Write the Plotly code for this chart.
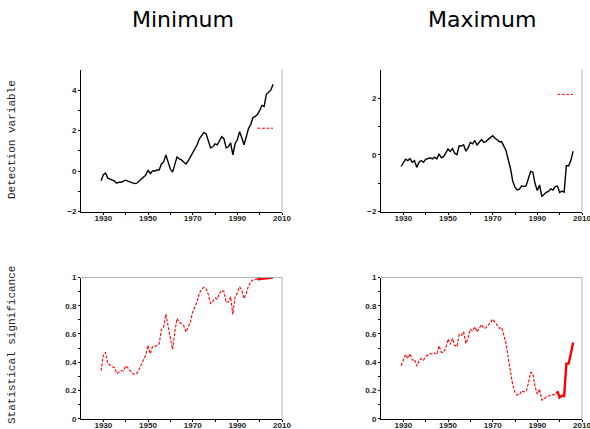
import plotly.graph_objects as go

years = list(range(1929, 2007))

min_detection = [-0.48, -0.18, -0.1, -0.35, -0.4, -0.45, -0.5, -0.6, -0.55, -0.55,
                 -0.5, -0.45, -0.5, -0.55, -0.6, -0.62, -0.6, -0.5, -0.4, -0.3,
                 -0.2, 0.05, -0.12, 0.0, 0.0, 0.05, 0.05, 0.35, 0.45, 0.8,
                 0.4, 0.1, -0.05, 0.3, 0.7, 0.6, 0.55, 0.45, 0.35, 0.5,
                 0.7, 0.9, 1.15, 1.3, 1.6, 1.75, 1.9, 1.85, 1.55, 1.15,
                 1.2, 1.35, 1.3, 1.5, 1.7, 1.6, 1.15, 1.2, 1.4, 0.8,
                 1.35, 1.55, 1.95, 1.65, 1.3, 1.7, 2.1, 2.3, 2.65, 2.7,
                 2.8, 3.0, 3.25, 3.2, 3.8, 3.9, 4.0, 4.3]

max_detection = [-0.41, -0.26, -0.15, -0.2, -0.13, -0.26, -0.2, -0.44, -0.26, -0.2,
                 -0.26, -0.16, -0.12, -0.1, -0.14, -0.08, -0.14, 0.04, -0.1, -0.06,
                 0.06, 0.21, 0.12, 0.22, 0.06, 0.01, 0.32, 0.31, 0.36, 0.13,
                 0.25, 0.44, 0.39, 0.51, 0.35, 0.44, 0.54, 0.45, 0.47, 0.55,
                 0.62, 0.68, 0.6, 0.53, 0.46, 0.47, 0.29, 0.15, -0.18, -0.49,
                 -0.93, -1.14, -1.24, -1.21, -1.09, -1.12, -1.09, -0.85, -0.58, -0.61,
                 -1.02, -1.26, -1.06, -1.47, -1.38, -1.32, -1.29, -1.2, -1.24, -1.12,
                 -1.1, -1.33, -1.28, -1.32, -0.38, -0.39, -0.2, 0.13]

min_significance = [0.34, 0.45, 0.47, 0.39, 0.38, 0.37, 0.36, 0.32, 0.33, 0.34,
                    0.34, 0.375, 0.36, 0.34, 0.32, 0.315, 0.32, 0.35, 0.385, 0.415,
                    0.45, 0.52, 0.46, 0.51, 0.51, 0.52, 0.53, 0.63, 0.65, 0.74,
                    0.65, 0.57, 0.49, 0.615, 0.71, 0.685, 0.675, 0.66, 0.615, 0.65,
                    0.685, 0.757, 0.80, 0.83, 0.89, 0.917, 0.93, 0.92, 0.88, 0.816,
                    0.83, 0.855, 0.847, 0.887, 0.91, 0.9, 0.823, 0.828, 0.863, 0.738,
                    0.863, 0.89, 0.934, 0.91, 0.85, 0.887, 0.94, 0.97, 0.983, 0.986,
                    0.988, 0.99, 0.993, 0.995, 0.997, 0.997, 0.999, 1.0]

max_significance = [0.375, 0.415, 0.455, 0.427, 0.46, 0.415, 0.42, 0.373, 0.408, 0.427,
                    0.415, 0.44, 0.45, 0.462, 0.458, 0.465, 0.455, 0.516, 0.47, 0.47,
                    0.50, 0.564, 0.526, 0.568, 0.52, 0.51, 0.597, 0.59, 0.615, 0.533,
                    0.573, 0.634, 0.62, 0.65, 0.615, 0.64, 0.667, 0.64, 0.644, 0.663,
                    0.68, 0.705, 0.68, 0.663, 0.64, 0.646, 0.59, 0.533, 0.427, 0.333,
                    0.238, 0.186, 0.167, 0.17, 0.198, 0.19, 0.196, 0.25, 0.328, 0.32,
                    0.226, 0.172, 0.21, 0.132, 0.137, 0.156, 0.16, 0.167, 0.172, 0.167,
                    0.196, 0.15, 0.163, 0.16, 0.39, 0.39, 0.46, 0.54]

threshold_years = [1999, 2006]
threshold_min = [2.12, 2.12]
threshold_max = [2.14, 2.14]
solid_start = 1999

col_titles = ["Minimum", "Maximum"]
row_titles = ["Detection variable", "Statistical significance"]

W, H = 590, 429
def xd(a, b):
    return [a / W, b / W]
def yd(top, bot):
    return [1 - bot / H, 1 - top / H]

fig = go.Figure()

k = years.index(solid_start)
RED = "#ff0000"
DASH = "3px,1.5px"

# top-left
fig.add_trace(go.Scatter(x=years, y=min_detection, mode="lines",
                         line=dict(color="black", width=1.4), xaxis="x", yaxis="y"))
fig.add_trace(go.Scatter(x=threshold_years, y=threshold_min, mode="lines",
                         line=dict(color=RED, width=1, dash=DASH), xaxis="x", yaxis="y"))
# top-right
fig.add_trace(go.Scatter(x=years, y=max_detection, mode="lines",
                         line=dict(color="black", width=1.4), xaxis="x2", yaxis="y2"))
fig.add_trace(go.Scatter(x=threshold_years, y=threshold_max, mode="lines",
                         line=dict(color=RED, width=1, dash=DASH), xaxis="x2", yaxis="y2"))
# bottom-left
fig.add_trace(go.Scatter(x=years[:k + 1], y=min_significance[:k + 1], mode="lines",
                         line=dict(color=RED, width=1.1, dash=DASH), xaxis="x3", yaxis="y3"))
fig.add_trace(go.Scatter(x=years[k:], y=min_significance[k:], mode="lines",
                         line=dict(color=RED, width=2.4), xaxis="x3", yaxis="y3"))
# bottom-right
fig.add_trace(go.Scatter(x=years[:k + 1], y=max_significance[:k + 1], mode="lines",
                         line=dict(color=RED, width=1.1, dash=DASH), xaxis="x4", yaxis="y4"))
fig.add_trace(go.Scatter(x=years[k:], y=max_significance[k:], mode="lines",
                         line=dict(color=RED, width=2.4), xaxis="x4", yaxis="y4"))

tickfont = dict(family="Liberation Sans", size=8, color="#222", weight="bold")

def xaxis(domain, anchor):
    return dict(domain=domain, anchor=anchor, range=[1920, 2010], automargin=False,
                tickmode="array", tickvals=[1930, 1950, 1970, 1990, 2010],
                ticks="outside", ticklen=2, tickwidth=1, tickcolor="black",
                ticklabelstandoff=-3, ticklabeloverflow="allow",
                minor=dict(tickmode="array", tickvals=[1940, 1960, 1980, 2000],
                           ticks="outside", ticklen=2, tickcolor="black"),
                showline=True, linecolor="black", linewidth=1,
                showgrid=False, zeroline=False, tickfont=tickfont, fixedrange=True)

def yaxis(domain, anchor, rng, vals, texts, minor_vals):
    return dict(domain=domain, anchor=anchor, range=rng, automargin=False,
                tickmode="array", tickvals=vals, ticktext=texts,
                ticks="outside", ticklen=2, tickwidth=1, tickcolor="black",
                ticklabeloverflow="allow",
                minor=dict(tickmode="array", tickvals=minor_vals,
                           ticks="outside", ticklen=2, tickcolor="black"),
                showline=True, linecolor="black", linewidth=1,
                showgrid=False, zeroline=False, tickfont=tickfont, fixedrange=True)

xL, xR = xd(81, 282), xd(381, 582)
yT, yB = yd(70, 211.5), yd(277.5, 418.7)

sig_vals = [0, 0.2, 0.4, 0.6, 0.8, 1]
sig_text = ["0", "0.2", "0.4", "0.6", "0.8", "1"]
sig_minor = [0.1, 0.3, 0.5, 0.7, 0.9]

fig.update_layout(
    width=W, height=H, margin=dict(l=0, r=0, t=0, b=0, autoexpand=False),
    paper_bgcolor="white", plot_bgcolor="white", showlegend=False,
    xaxis=xaxis(xL, "y"), yaxis=yaxis(yT, "x", [-2, 5], [-2, 0, 2, 4], ["\u22122", "0", "2", "4"], [-1, 1, 3]),
    xaxis2=xaxis(xR, "y2"), yaxis2=yaxis(yT, "x2", [-2, 3], [-2, 0, 2], ["\u22122", "0", "2"], [-1, 1]),
    xaxis3=xaxis(xL, "y3"), yaxis3=yaxis(yB, "x3", [0, 1], sig_vals, sig_text, sig_minor),
    xaxis4=xaxis(xR, "y4"), yaxis4=yaxis(yB, "x4", [0, 1], sig_vals, sig_text, sig_minor),
)

# light frame on right / top edges
for xa, ya in [("x", "y"), ("x2", "y2"), ("x3", "y3"), ("x4", "y4")]:
    fig.add_shape(type="line", xref=xa + " domain", yref=ya + " domain",
                  x0=1, x1=1, y0=0, y1=1, line=dict(color="#b0b0b0", width=1))
for xa, ya in [("x3", "y3"), ("x4", "y4")]:
    fig.add_shape(type="line", xref=xa + " domain", yref=ya + " domain",
                  x0=0, x1=1, y0=1, y1=1, line=dict(color="#b0b0b0", width=1))

# column titles
for title, cx in zip(col_titles, [183, 482]):
    fig.add_annotation(text=title, xref="paper", yref="paper", x=cx / W, y=1 - 20 / H,
                       showarrow=False, xanchor="center", yanchor="middle",
                       font=dict(family="DejaVu Sans", size=22, color="black"))
# row titles
for title, cy in zip(row_titles, [140, 345]):
    fig.add_annotation(text=title, xref="paper", yref="paper", x=12 / W, y=1 - cy / H,
                       showarrow=False, xanchor="center", yanchor="middle", textangle=-90,
                       font=dict(family="Liberation Mono", size=11, color="#222"))

fig.write_html("out.html", config={"displayModeBar": False},
               post_script="document.body.style.margin='0';document.body.style.overflow='hidden';")
